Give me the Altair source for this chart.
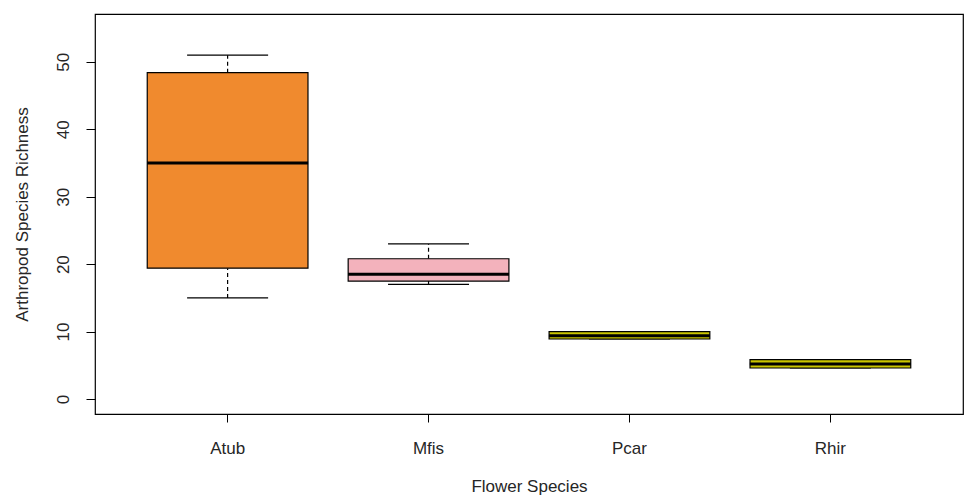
import altair as alt
import pandas as pd

species = ["Atub", "Mfis", "Pcar", "Rhir"]
lower = [15, 17, 8.9, 4.6]
q1 = [19.4, 17.5, 8.9, 4.6]
median = [35, 18.5, 9.4, 5.2]
q3 = [48.4, 20.8, 10.0, 5.85]
upper = [51, 23, 10.0, 5.85]
fills = ["#F08A2E", "#F3B2BC", "#C9C400", "#C9C400"]

df = pd.DataFrame({"species": species, "lower": lower, "q1": q1,
                   "median": median, "q3": q3, "upper": upper, "fill": fills})

FONT = "Liberation Sans"
TXT = "#262626"

xscale = alt.Scale(domain=species, paddingInner=0.2, paddingOuter=0.26)
yscale = alt.Scale(domain=[-2.22, 57.1], nice=False, zero=False)

x_enc = alt.X("species:N", scale=xscale, sort=species,
              axis=alt.Axis(title="Flower Species", labelAngle=0, domain=False,
                            ticks=True, tickSize=8, tickColor="black",
                            labelPadding=18, labelBaseline="top", labelAlign="center",
                            labelFontSize=17, labelFont=FONT, labelColor=TXT,
                            titleFontSize=17, titleFont=FONT, titleColor=TXT,
                            titleFontWeight="normal", titleX=434, titleY=72,
                            titleBaseline="middle", titleAlign="center"))
x_plain = alt.X("species:N", scale=xscale, sort=species)

y_axis = alt.Axis(title="Arthropod Species Richness", values=[0, 10, 20, 30, 40, 50],
                  domain=False, grid=False, tickSize=9, tickColor="black",
                  labelAngle=270, labelAlign="center", labelBaseline="bottom",
                  labelPadding=14, labelFontSize=17, labelFont=FONT, labelColor=TXT,
                  titleFontSize=17, titleFont=FONT, titleColor=TXT,
                  titleFontWeight="normal", titleX=-73, titleY=200,
                  titleAngle=270, titleAlign="center", titleBaseline="middle")

base = alt.Chart(df)

whisk_hi = base.mark_rule(color="black", strokeDash=[4, 3], strokeWidth=1.2).encode(
    x=x_plain, y=alt.Y("q3:Q", scale=yscale, axis=y_axis), y2="upper:Q")
whisk_lo = base.mark_rule(color="black", strokeDash=[4, 3], strokeWidth=1.2).encode(
    x=x_plain, y=alt.Y("lower:Q", scale=yscale), y2="q1:Q")
cap_hi = base.mark_tick(color="black", size=81, thickness=1.2, opacity=1).encode(
    x=x_plain, y=alt.Y("upper:Q", scale=yscale))
cap_lo = base.mark_tick(color="black", size=81, thickness=1.2, opacity=1).encode(
    x=x_plain, y=alt.Y("lower:Q", scale=yscale))
box = base.mark_bar(stroke="black", strokeWidth=1.2, opacity=1).encode(
    x=x_enc, y=alt.Y("q1:Q", scale=yscale), y2="q3:Q",
    color=alt.Color("fill:N", scale=None))
med = base.mark_tick(color="black", size=161, thickness=3, opacity=1).encode(
    x=x_plain, y=alt.Y("median:Q", scale=yscale))

chart = alt.layer(whisk_hi, whisk_lo, cap_hi, cap_lo, box, med).properties(
    width=868, height=400,
    background="white",
    autosize=alt.AutoSizeParams(type="none"),
    padding={"left": 87, "top": 6, "right": 7, "bottom": 81},
).configure_view(stroke="black", strokeWidth=1.2)

chart.save("out.html", embed_options={"renderer": "svg", "actions": False})
